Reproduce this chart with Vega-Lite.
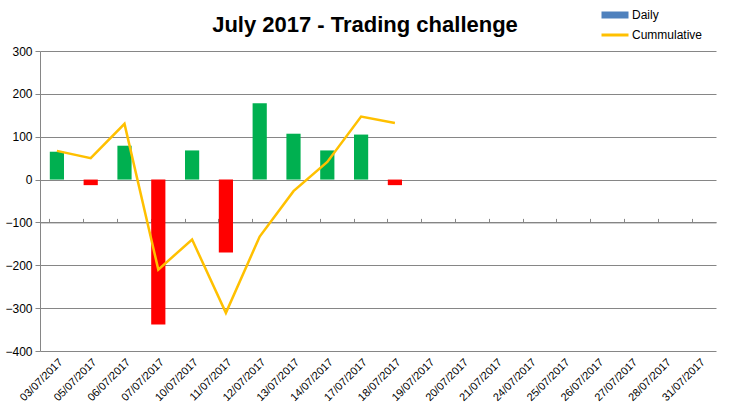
{
  "$schema": "https://vega.github.io/schema/vega-lite/v6.json",
  "width": 676,
  "height": 300,
  "autosize": "none",
  "padding": {"left": 40, "top": 51, "right": 13, "bottom": 65},
  "background": "white",
  "title": {
    "text": "July 2017 - Trading challenge",
    "font": "Liberation Sans",
    "fontSize": 22,
    "fontWeight": "bold",
    "color": "black",
    "anchor": "middle",
    "frame": "group",
    "dx": -13,
    "dy": 48,
    "offset": 20
  },
  "data": {
    "values": [
      {"date": "03/07/2017", "daily": 65, "cum": 67},
      {"date": "05/07/2017", "daily": -13, "cum": 50},
      {"date": "06/07/2017", "daily": 79, "cum": 130},
      {"date": "07/07/2017", "daily": -338, "cum": -210},
      {"date": "10/07/2017", "daily": 68, "cum": -140},
      {"date": "11/07/2017", "daily": -170, "cum": -311},
      {"date": "12/07/2017", "daily": 178, "cum": -133},
      {"date": "13/07/2017", "daily": 107, "cum": -27},
      {"date": "14/07/2017", "daily": 68, "cum": 41},
      {"date": "17/07/2017", "daily": 105, "cum": 147},
      {"date": "18/07/2017", "daily": -13, "cum": 132},
      {"date": "19/07/2017", "daily": null, "cum": null},
      {"date": "20/07/2017", "daily": null, "cum": null},
      {"date": "21/07/2017", "daily": null, "cum": null},
      {"date": "24/07/2017", "daily": null, "cum": null},
      {"date": "25/07/2017", "daily": null, "cum": null},
      {"date": "26/07/2017", "daily": null, "cum": null},
      {"date": "27/07/2017", "daily": null, "cum": null},
      {"date": "28/07/2017", "daily": null, "cum": null},
      {"date": "31/07/2017", "daily": null, "cum": null}
    ]
  },
  "config": {
    "view": {"stroke": null},
    "axis": {"labelFont": "Liberation Sans", "labelColor": "black", "titleFont": "Liberation Sans"},
    "legend": {"labelFont": "Liberation Sans"}
  },
  "resolve": {"axis": {"x": "independent"}},
  "layer": [
    {
      "mark": {"type": "bar"},
      "encoding": {
        "x": {
          "field": "date",
          "type": "nominal",
          "sort": null,
          "scale": {
            "domain": ["03/07/2017","05/07/2017","06/07/2017","07/07/2017","10/07/2017","11/07/2017","12/07/2017","13/07/2017","14/07/2017","17/07/2017","18/07/2017","19/07/2017","20/07/2017","21/07/2017","24/07/2017","25/07/2017","26/07/2017","27/07/2017","28/07/2017","31/07/2017"],
            "paddingInner": 0.58,
            "paddingOuter": 0.29
          },
          "axis": {
            "title": null,
            "labelAngle": -45,
            "labelFontSize": 11,
            "labelPadding": 5,
            "domain": false,
            "ticks": false,
            "grid": false
          }
        },
        "y": {
          "field": "daily",
          "type": "quantitative",
          "scale": {"domain": [-400, 300], "nice": false},
          "axis": {
            "title": null,
            "values": [-400, -300, -200, -100, 0, 100, 200, 300],
            "labelFontSize": 12,
            "labelPadding": 3,
            "tickSize": 5,
            "tickColor": "#868686",
            "domainColor": "#868686",
            "gridColor": "#868686",
            "gridOpacity": 1
          }
        },
        "color": {
          "condition": {"test": "datum.daily < 0", "value": "#FF0000"},
          "value": "#00B050"
        }
      }
    },
    {
      "mark": {"type": "line", "strokeWidth": 2.5},
      "transform": [{"calculate": "'Cummulative'", "as": "series"}],
      "encoding": {
        "x": {
          "field": "date",
          "type": "nominal",
          "sort": null,
          "axis": {
            "title": null,
            "labels": false,
            "offset": -171.4,
            "domain": true,
            "domainColor": "#868686",
            "ticks": true,
            "tickSize": 4,
            "tickColor": "#868686",
            "bandPosition": 0,
            "grid": false
          }
        },
        "y": {"field": "cum", "type": "quantitative"},
        "color": {
          "field": "series",
          "type": "nominal",
          "scale": {"domain": ["Daily", "Cummulative"], "range": ["#4F81BD", "#FFC000"]},
          "legend": {
            "title": null,
            "orient": "none",
            "legendX": 569,
            "legendY": -42,
            "symbolType": "stroke",
            "symbolSize": 729,
            "symbolStrokeWidth": 3,
            "labelFontSize": 12,
            "labelColor": "black",
            "rowPadding": 0,
            "labelOffset": 11,
            "encode": {
              "symbols": {
                "update": {
                  "strokeWidth": {"signal": "datum.value === 'Daily' ? 7 : 3"}
                }
              }
            }
          }
        }
      }
    }
  ]
}
